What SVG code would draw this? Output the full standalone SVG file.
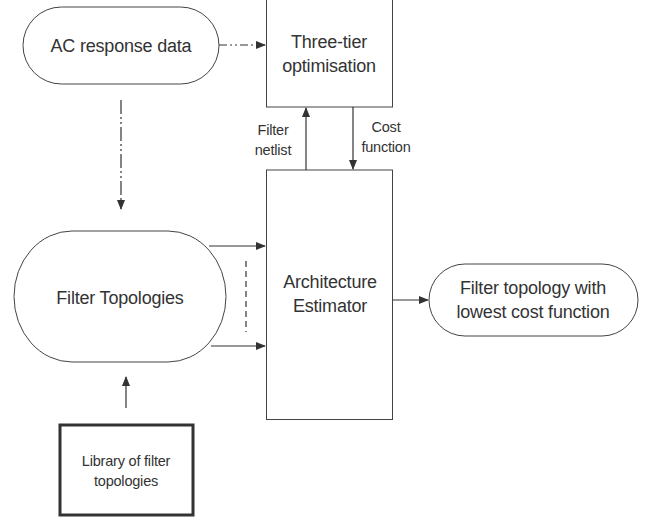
<svg xmlns="http://www.w3.org/2000/svg" width="650" height="517" viewBox="0 0 650 517">
<style>
.s{fill:#fff;stroke:#444;stroke-width:1}
.t{font-family:"Liberation Sans",Arial,sans-serif;fill:#333;text-anchor:middle}
.L{font-size:18px;letter-spacing:-0.2px}
.m{font-size:14.5px;letter-spacing:-0.2px}
.c{stroke:#333;stroke-width:1.2;fill:none}
</style>
<defs>
<marker id="a" markerWidth="10" markerHeight="8" refX="9" refY="4" orient="auto" markerUnits="userSpaceOnUse">
<path d="M0,0 L10,4 L0,8 Z" fill="#333"/>
</marker>
</defs>
<rect width="650" height="517" fill="#fff"/>
<g id="ac">
<rect class="s" x="23" y="7" width="196" height="77" rx="38.5" ry="38.5"/>
<text class="t L" x="121" y="52">AC response data</text>
</g>
<g id="three">
<rect class="s" x="266.5" y="-1" width="126" height="108"/>
<text class="t L" x="329" y="48">Three-tier</text>
<text class="t L" x="329" y="72">optimisation</text>
</g>
<g id="arch">
<rect class="s" x="266.5" y="170" width="126" height="249.5"/>
<text class="t L" x="330" y="288">Architecture</text>
<text class="t L" x="330" y="312">Estimator</text>
</g>
<g id="topo">
<rect class="s" x="14" y="231" width="212" height="131" rx="58" ry="65.5"/>
<text class="t L" x="120" y="304">Filter Topologies</text>
</g>
<g id="out">
<rect class="s" x="429" y="264" width="209" height="72" rx="36" ry="36"/>
<text class="t L" x="533" y="294">Filter topology with</text>
<text class="t L" x="533" y="318">lowest cost function</text>
</g>
<g id="lib">
<rect x="60" y="425" width="133" height="90" fill="#fff" stroke="#333" stroke-width="3"/>
<text class="t m" x="126" y="466">Library of filter</text>
<text class="t m" x="126" y="486">topologies</text>
</g>
<g id="connectors">
<path class="c" d="M219,45 L265,45" stroke-dasharray="8,3,2,3,2,3" marker-end="url(#a)"/>
<path class="c" d="M121,100 L121,209" stroke-dasharray="14,3,2,3,2,3" marker-end="url(#a)"/>
<path class="c" d="M306,170 L306,108" marker-end="url(#a)"/>
<path class="c" d="M353,107 L353,169" marker-end="url(#a)"/>
<path class="c" d="M209,246 L265,246" marker-end="url(#a)"/>
<path class="c" d="M211,346 L265,346" marker-end="url(#a)"/>
<path class="c" d="M246,261 L246,332" stroke-dasharray="6,4"/>
<path class="c" d="M126,408 L126,377" marker-end="url(#a)"/>
<path class="c" d="M393,300 L428,300" marker-end="url(#a)"/>
<text class="t m" x="273" y="135">Filter</text>
<text class="t m" x="273" y="155">netlist</text>
<text class="t m" x="386" y="132">Cost</text>
<text class="t m" x="386" y="152">function</text>
</g>
</svg>
